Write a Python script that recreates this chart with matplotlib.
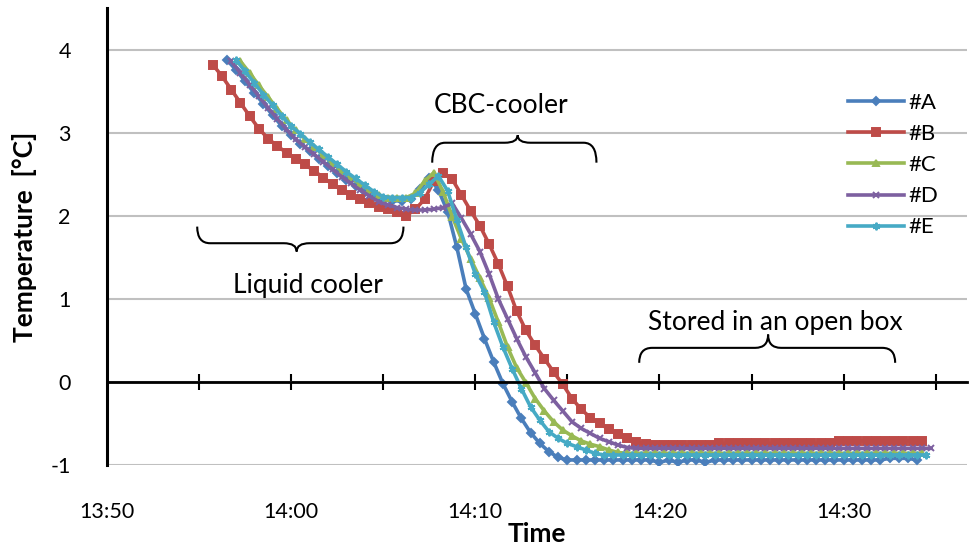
import numpy as np
import matplotlib
matplotlib.use("Agg")
import matplotlib.pyplot as plt
from matplotlib.path import Path
from matplotlib.patches import PathPatch

plt.rcParams['font.family'] = ['Lato', 'DejaVu Sans']

# logger readings, one every 30 s; time in minutes after 13:50
step = 0.5
start_a = 6.5
temp_a = [3.88, 3.76, 3.62, 3.48, 3.35, 3.21, 3.08, 2.97, 2.87, 2.78,
          2.69, 2.60, 2.51, 2.43, 2.36, 2.29, 2.23, 2.19, 2.18, 2.18,
          2.20, 2.32, 2.46, 2.31, 2.05, 1.62, 1.12, 0.82, 0.52, 0.24,
          -0.02, -0.24, -0.44, -0.61, -0.74, -0.84, -0.91, -0.94, -0.94, -0.94,
          -0.94, -0.94, -0.94, -0.94, -0.94, -0.94, -0.94, -0.97, -0.94, -0.97,
          -0.94, -0.94, -0.97, -0.94, -0.94, -0.94, -0.94, -0.94, -0.94, -0.94,
          -0.94, -0.94, -0.94, -0.94, -0.94, -0.94, -0.94, -0.94, -0.94, -0.94,
          -0.94, -0.94, -0.92, -0.92, -0.92, -0.94]

start_b = 5.75
temp_b = [3.82, 3.68, 3.52, 3.36, 3.20, 3.05, 2.93, 2.84, 2.76, 2.69,
          2.62, 2.54, 2.46, 2.38, 2.31, 2.25, 2.20, 2.15, 2.11, 2.08,
          2.04, 2.00, 2.08, 2.20, 2.42, 2.51, 2.44, 2.25, 2.06, 1.88,
          1.66, 1.42, 1.15, 0.85, 0.62, 0.44, 0.28, 0.12, -0.03, -0.20,
          -0.33, -0.43, -0.50, -0.57, -0.63, -0.68, -0.72, -0.75, -0.76, -0.76,
          -0.76, -0.76, -0.76, -0.76, -0.76, -0.74, -0.74, -0.74, -0.74, -0.74,
          -0.74, -0.74, -0.74, -0.74, -0.74, -0.74, -0.74, -0.74, -0.71, -0.71,
          -0.71, -0.71, -0.71, -0.71, -0.71, -0.71, -0.71, -0.71]

start_c = 7.25
temp_c = [3.86, 3.72, 3.57, 3.43, 3.29, 3.15, 3.03, 2.93, 2.83, 2.73,
          2.63, 2.54, 2.46, 2.38, 2.31, 2.25, 2.22, 2.22, 2.22, 2.27,
          2.42, 2.52, 2.29, 1.99, 1.72, 1.48, 1.25, 1.01, 0.72, 0.42,
          0.17, -0.01, -0.20, -0.35, -0.48, -0.58, -0.65, -0.71, -0.75, -0.78,
          -0.82, -0.85, -0.86, -0.86, -0.86, -0.86, -0.86, -0.86, -0.86, -0.86,
          -0.86, -0.86, -0.86, -0.86, -0.86, -0.86, -0.86, -0.86, -0.86, -0.86,
          -0.86, -0.86, -0.86, -0.86, -0.86, -0.86, -0.86, -0.86, -0.86, -0.86,
          -0.86, -0.86, -0.86, -0.86, -0.86]

start_d = 6.75
temp_d = [3.86, 3.72, 3.58, 3.44, 3.30, 3.17, 3.04, 2.92, 2.83, 2.74,
          2.65, 2.56, 2.47, 2.39, 2.31, 2.24, 2.17, 2.13, 2.10, 2.08,
          2.07, 2.07, 2.08, 2.10, 2.15, 1.97, 1.78, 1.57, 1.30, 1.00,
          0.76, 0.52, 0.30, 0.11, -0.08, -0.22, -0.35, -0.48, -0.56, -0.62,
          -0.68, -0.72, -0.76, -0.79, -0.80, -0.80, -0.80, -0.80, -0.80, -0.80,
          -0.80, -0.80, -0.80, -0.80, -0.80, -0.80, -0.80, -0.80, -0.80, -0.80,
          -0.80, -0.80, -0.80, -0.80, -0.80, -0.80, -0.80, -0.80, -0.80, -0.80,
          -0.80, -0.80, -0.80, -0.80, -0.80, -0.80, -0.80]

start_e = 7.0
temp_e = [3.88, 3.74, 3.60, 3.46, 3.33, 3.20, 3.08, 2.99, 2.89, 2.80,
          2.71, 2.62, 2.53, 2.45, 2.37, 2.29, 2.23, 2.22, 2.22, 2.22,
          2.28, 2.38, 2.48, 2.30, 1.95, 1.62, 1.30, 1.08, 0.72, 0.42,
          0.16, -0.08, -0.30, -0.46, -0.60, -0.68, -0.74, -0.78, -0.82, -0.86,
          -0.88, -0.88, -0.88, -0.88, -0.88, -0.88, -0.88, -0.88, -0.88, -0.88,
          -0.88, -0.88, -0.88, -0.88, -0.88, -0.88, -0.88, -0.88, -0.88, -0.88,
          -0.88, -0.88, -0.88, -0.88, -0.88, -0.88, -0.88, -0.88, -0.88, -0.88,
          -0.88, -0.88, -0.88, -0.88, -0.88, -0.88]

series = [
    ('#A', start_a, temp_a, '#4a7ebb', 'D', 4.0),
    ('#B', start_b, temp_b, '#be4b48', 's', 5.5),
    ('#C', start_c, temp_c, '#98b954', '^', 5.0),
    ('#D', start_d, temp_d, '#7d60a0', 'x', 4.5),
    ('#E', start_e, temp_e, '#46aac5', (6, 2, 0), 5.5),
]

tick_minutes = [0, 10, 20, 30, 40]
tick_labels = ['13:50', '14:00', '14:10', '14:20', '14:30']


def brace(ax, x0, x1, xm, y_end, y_bar, y_tip, r):
    verts = [(x0, y_end), (x0, y_bar), (x0 + r, y_bar),
             (xm - r, y_bar), (xm, y_bar), (xm, y_tip),
             (xm, y_bar), (xm + r, y_bar),
             (x1 - r, y_bar), (x1, y_bar), (x1, y_end)]
    codes = [Path.MOVETO, Path.CURVE3, Path.CURVE3,
             Path.LINETO, Path.CURVE3, Path.CURVE3,
             Path.CURVE3, Path.CURVE3,
             Path.LINETO, Path.CURVE3, Path.CURVE3]
    ax.add_patch(PathPatch(Path(verts, codes), fill=False, lw=1.5,
                           edgecolor='black', zorder=5))


fig = plt.figure(figsize=(9.75, 5.47), dpi=100)
ax = fig.add_axes([0.1097, 0.150, 0.8821, 0.835])

for name, t0, temps, color, marker, ms in series:
    t = t0 + step * np.arange(len(temps))
    ax.plot(t, temps, color=color, lw=2.6, marker=marker, ms=ms,
            mec=color, mfc=color, mew=1.4, label=name)

ax.set_xlim(0, 46.7)
ax.set_ylim(-1, 4.5)
ax.set_yticks([-1, 0, 1, 2, 3, 4])
ax.set_yticklabels(['-1', '0', '1', '2', '3', '4'])
ax.yaxis.grid(True, color='#c0c0c0', lw=1.5)
ax.set_axisbelow(True)
ax.tick_params(axis='y', length=0, pad=26, labelsize=15.5)

for side in ['top', 'right']:
    ax.spines[side].set_visible(False)
ax.spines['left'].set_linewidth(2.2)
ax.spines['bottom'].set_position(('data', 0))
ax.spines['bottom'].set_linewidth(2.0)
ax.set_xticks(np.arange(5, 46, 5))
ax.tick_params(axis='x', direction='inout', length=12, width=1.5,
               labelbottom=False)

sec = ax.secondary_xaxis('bottom')
sec.spines['bottom'].set_visible(False)
sec.set_xticks(tick_minutes)
sec.set_xticklabels(tick_labels)
sec.tick_params(length=0, pad=27, labelsize=15.5)
sec.set_xlabel('Time', fontsize=19, fontweight='bold', labelpad=0)

ax.set_ylabel('Temperature  [°C]', fontsize=19, fontweight='bold', labelpad=10)

# phase brackets
brace(ax, 17.66, 26.58, 22.3, 2.64, 2.88, 2.97, 0.7)
brace(ax, 4.9, 16.1, 10.3, 1.87, 1.67, 1.57, 0.7)
brace(ax, 28.9, 42.8, 35.9, 0.23, 0.41, 0.57, 0.7)
ax.text(21.4, 3.33, 'CBC-cooler', fontsize=19, ha='center', va='center')
ax.text(10.9, 1.16, 'Liquid cooler', fontsize=19, ha='center', va='center')
ax.text(36.3, 0.71, 'Stored in an open box', fontsize=19,
        ha='center', va='center')

ax.legend(loc='upper left', bbox_to_anchor=(848 / 975, 1 - 93 / 547),
          bbox_transform=fig.transFigure, frameon=False, fontsize=16,
          handlelength=2.5, handletextpad=0.2, labelspacing=0.5,
          borderpad=0, borderaxespad=0)

fig.savefig('out.png', dpi=100)
